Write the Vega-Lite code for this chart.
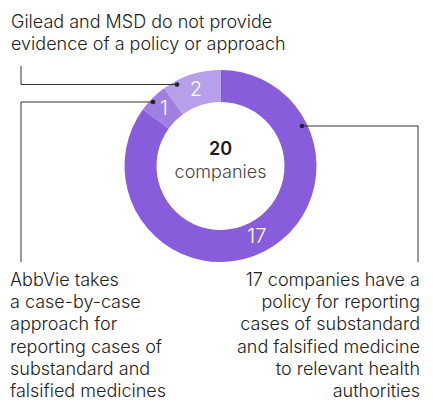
{
  "$schema": "https://vega.github.io/schema/vega-lite/v6.json",
  "width": 433,
  "height": 403,
  "padding": 0,
  "autosize": "none",
  "background": "white",
  "config": {"view": {"stroke": null}, "font": "Inter"},
  "data": {
    "values": [
      {"group": "a", "status": "Policy for reporting", "count": 17, "note": "17 companies have a\npolicy for reporting\ncases of substandard\nand falsified medicine\nto relevant health\nauthorities"},
      {"group": "b", "status": "Case-by-case approach", "count": 1, "note": "AbbVie takes\na case-by-case\napproach for\nreporting cases of\nsubstandard and\nfalsified medicines"},
      {"group": "c", "status": "No evidence", "count": 2, "note": "Gilead and MSD do not provide\nevidence of a policy or approach"}
    ]
  },
  "layer": [
    {
      "mark": {"type": "arc", "innerRadius": 64, "outerRadius": 96, "x": 220.5, "y": 166},
      "encoding": {
        "theta": {"field": "count", "type": "quantitative", "stack": true},
        "order": {"field": "group", "type": "nominal"},
        "color": {"field": "group", "type": "nominal", "scale": {"domain": ["a", "b", "c"], "range": ["#885ddb", "#a07fe3", "#b89fea"]}, "legend": null}
      }
    },
    {
      "mark": {"type": "text", "radius": 80, "x": 220.5, "y": 166, "fontSize": 20, "fontWeight": 300, "color": "white", "baseline": "middle"},
      "encoding": {
        "theta": {"field": "count", "type": "quantitative", "stack": true},
        "order": {"field": "group", "type": "nominal"},
        "text": {"field": "count", "type": "quantitative"}
      }
    },
    {
      "transform": [{"aggregate": [{"op": "sum", "field": "count", "as": "total"}]}],
      "mark": {"type": "text", "x": 220.5, "y": 155, "fontSize": 18, "fontWeight": 600, "color": "#1a1a1a", "align": "center", "baseline": "alphabetic"},
      "encoding": {"text": {"field": "total", "type": "quantitative"}}
    },
    {
      "transform": [{"aggregate": [{"op": "sum", "field": "count", "as": "total"}]}],
      "mark": {"type": "text", "x": 220.5, "y": 178, "fontSize": 18, "fontWeight": 300, "color": "#444444", "align": "center", "baseline": "alphabetic", "text": "companies"},
      "encoding": {}
    },
    {
      "transform": [{"filter": "datum.group === 'c'"}],
      "mark": {"type": "text", "x": 11, "y": 28, "fontSize": 18, "fontWeight": 300, "color": "#222222", "align": "left", "baseline": "alphabetic", "lineBreak": "\n", "lineHeight": 22},
      "encoding": {"text": {"field": "note", "type": "nominal"}}
    },
    {
      "transform": [{"filter": "datum.group === 'b'"}],
      "mark": {"type": "text", "x": 10, "y": 286, "fontSize": 18, "fontWeight": 300, "color": "#222222", "align": "left", "baseline": "alphabetic", "lineBreak": "\n", "lineHeight": 22.2},
      "encoding": {"text": {"field": "note", "type": "nominal"}}
    },
    {
      "transform": [{"filter": "datum.group === 'a'"}],
      "mark": {"type": "text", "x": 420, "y": 286, "fontSize": 18, "fontWeight": 300, "color": "#222222", "align": "right", "baseline": "alphabetic", "lineBreak": "\n", "lineHeight": 22.2},
      "encoding": {"text": {"field": "note", "type": "nominal"}}
    },
    {
      "transform": [{"filter": "datum.group === 'c'"}],
      "mark": {"type": "rule", "color": "#333333", "strokeWidth": 1},
      "encoding": {"x": {"value": 21}, "y": {"value": 66}, "x2": {"value": 21}, "y2": {"value": 84.5}}
    },
    {
      "transform": [{"filter": "datum.group === 'c'"}],
      "mark": {"type": "rule", "color": "#333333", "strokeWidth": 1},
      "encoding": {"x": {"value": 21}, "y": {"value": 84.5}, "x2": {"value": 177}, "y2": {"value": 84.5}}
    },
    {
      "transform": [{"filter": "datum.group === 'c'"}],
      "mark": {"type": "point", "filled": true, "size": 22, "color": "#222222", "opacity": 1},
      "encoding": {"x": {"value": 177}, "y": {"value": 84.5}}
    },
    {
      "transform": [{"filter": "datum.group === 'b'"}],
      "mark": {"type": "rule", "color": "#333333", "strokeWidth": 1},
      "encoding": {"x": {"value": 21}, "y": {"value": 102}, "x2": {"value": 153}, "y2": {"value": 102}}
    },
    {
      "transform": [{"filter": "datum.group === 'b'"}],
      "mark": {"type": "rule", "color": "#333333", "strokeWidth": 1},
      "encoding": {"x": {"value": 21}, "y": {"value": 102}, "x2": {"value": 21}, "y2": {"value": 262}}
    },
    {
      "transform": [{"filter": "datum.group === 'b'"}],
      "mark": {"type": "point", "filled": true, "size": 22, "color": "#222222", "opacity": 1},
      "encoding": {"x": {"value": 153}, "y": {"value": 102}}
    },
    {
      "transform": [{"filter": "datum.group === 'a'"}],
      "mark": {"type": "rule", "color": "#333333", "strokeWidth": 1},
      "encoding": {"x": {"value": 302}, "y": {"value": 126}, "x2": {"value": 418}, "y2": {"value": 126}}
    },
    {
      "transform": [{"filter": "datum.group === 'a'"}],
      "mark": {"type": "rule", "color": "#333333", "strokeWidth": 1},
      "encoding": {"x": {"value": 418}, "y": {"value": 126}, "x2": {"value": 418}, "y2": {"value": 262}}
    },
    {
      "transform": [{"filter": "datum.group === 'a'"}],
      "mark": {"type": "point", "filled": true, "size": 22, "color": "#222222", "opacity": 1},
      "encoding": {"x": {"value": 302}, "y": {"value": 126}}
    }
  ]
}
